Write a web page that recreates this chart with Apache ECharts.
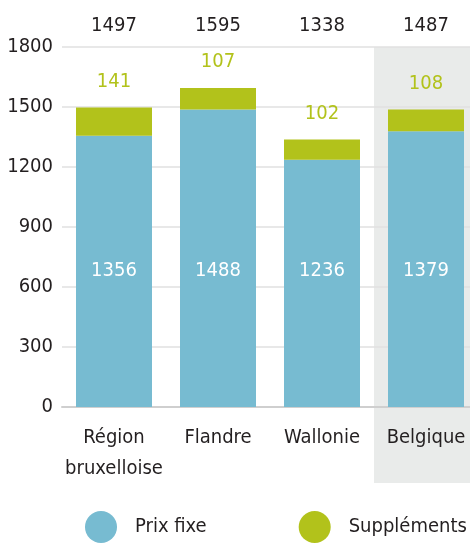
<!DOCTYPE html>
<html lang="fr">
<head>
    <meta charset="UTF-8">
    <title>Prix fixe et suppléments</title>
    <script src="https://cdn.jsdelivr.net/npm/echarts@6/dist/echarts.min.js"></script>
    <style>
        html, body { margin: 0; padding: 0; background: #fff; }
        #chartmain { width: 470px; height: 543px; }
    </style>
</head>
<body>
<div id="chartmain"></div>
<script type="text/javascript">
    var categories = ['Région\nbruxelloise', 'Flandre', 'Wallonie', 'Belgique'];
    var prixFixe = [1356, 1488, 1236, 1379];
    var supplements = [141, 107, 102, 108];
    var yTicks = [0, 300, 600, 900, 1200, 1500, 1800];

    var totals = prixFixe.map(function (v, i) { return String(v + supplements[i]); });

    var font = "'Liberation Sans Narrow', 'DejaVu Sans Condensed', sans-serif";
    var dark = '#231f20';
    var blue = '#77bbd1';
    var green = '#b2c21b';

    var myChart = echarts.init(document.getElementById('chartmain'));
    myChart.setOption({
        animation: false,
        textStyle: { fontFamily: font },
        grid: { left: 62, top: 47, right: -8, bottom: 136, outerBoundsMode: 'none', containLabel: false },
        legend: {
            bottom: 0,
            left: 85,
            padding: 0,
            width: 400,
            orient: 'horizontal',
            itemWidth: 32,
            itemHeight: 32,
            itemGap: 92,
            icon: 'circle',
            formatter: '{t|{name}}',
            textStyle: {
                fontFamily: font, fontSize: 20, color: dark,
                rich: { t: { fontFamily: font, fontSize: 20, color: dark, padding: [0, 0, 0, 13] } }
            },
            data: ['Prix fixe', 'Suppléments']
        },
        xAxis: [{
            type: 'category',
            data: categories,
            axisLine: { lineStyle: { color: '#cfcfcf', width: 2 } },
            axisTick: { show: false },
            axisLabel: { fontFamily: font, fontSize: 20, color: dark, margin: 15, lineHeight: 31, interval: 0 }
        }, {
            type: 'category',
            position: 'top',
            data: totals,
            axisLine: { show: false },
            axisTick: { show: false },
            axisLabel: { fontFamily: font, fontSize: 20, color: dark, margin: 11, interval: 0 }
        }],
        yAxis: {
            type: 'value',
            min: yTicks[0],
            max: yTicks[yTicks.length - 1],
            interval: 300,
            axisLine: { show: false },
            axisTick: { show: false },
            splitLine: { lineStyle: { color: '#e0e0e0', width: 1.5 } },
            axisLabel: {
                fontFamily: font, fontSize: 20, color: dark, margin: 9,
                formatter: function (v) { return String(v); }
            }
        },
        series: [{
            name: 'Prix fixe',
            type: 'bar',
            stack: 'total',
            barWidth: 76,
            itemStyle: { color: blue },
            label: {
                show: true,
                position: 'insideBottom',
                distance: 126,
                color: '#fff',
                fontFamily: font,
                fontSize: 20
            },
            data: prixFixe
        }, {
            name: 'Suppléments',
            type: 'bar',
            stack: 'total',
            barWidth: 76,
            itemStyle: { color: green },
            label: {
                show: true,
                position: 'top',
                distance: 16,
                color: green,
                fontFamily: font,
                fontSize: 20
            },
            data: supplements
        }]
    });

    // fond gris derrière la Belgique
    var cx = myChart.convertToPixel({ xAxisIndex: 0 }, 3);
    var cx0 = myChart.convertToPixel({ xAxisIndex: 0 }, 2);
    var band = cx - cx0;
    var yTop = myChart.convertToPixel({ yAxisIndex: 0 }, yTicks[yTicks.length - 1]);
    myChart.setOption({
        graphic: [{
            type: 'rect',
            z: -10,
            silent: true,
            shape: { x: cx - band / 2, y: yTop, width: band, height: 436 },
            style: { fill: '#e9ebea' }
        }]
    });
</script>
</body>
</html>
